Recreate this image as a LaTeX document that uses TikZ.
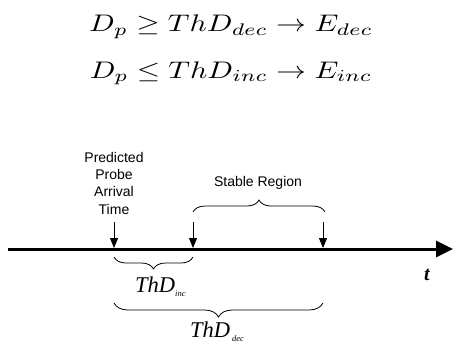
\documentclass[tikz,border=0pt]{standalone}
\usepackage{amsmath,amssymb}
\usepackage[no-math]{fontspec}
\newfontfamily\arialfont{Liberation Sans}
\newfontfamily\timesfont{Liberation Serif}
\usetikzlibrary{arrows.meta, decorations.pathreplacing}

\newcommand{\thdsub}[1]{{\fontsize{8.5}{9}\selectfont\raisebox{-4pt}{#1}}}

\begin{document}
\begin{tikzpicture}[
    x=1pt, y=1pt,
    eqn/.style={anchor=base, inner sep=0pt, font=\fontsize{10}{12}\selectfont},
    lbl/.style={inner sep=0pt, align=center, font=\arialfont\fontsize{14}{17.3}\selectfont},
    thd/.style={anchor=base west, inner sep=0pt, font=\timesfont\itshape\fontsize{22.5}{26}\selectfont},
    timeaxis/.style={line width=3pt, -{Triangle[length=17pt,width=16pt]}},
    marker/.style={line width=1pt, -{Triangle[length=10pt,width=8pt]}},
    curly/.style={decorate, line width=0.8pt, decoration={brace, amplitude=#1}}
  ]
  \useasboundingbox (0,0) rectangle (454,-341);

  \node[eqn] (eqdec) at (231,-31.5)
    {\scalebox{3.0}[2.4]{$D_p \geq ThD_{dec} \rightarrow E_{dec}$}};
  \node[eqn] (eqinc) at (231,-78)
    {\scalebox{3.0}[2.4]{$D_p \leq ThD_{inc} \rightarrow E_{inc}$}};

  \coordinate (origin) at (8,-249);
  \coordinate (tend) at (453,-249);
  \draw[timeaxis] (origin) -- (tend);
  \node[font=\timesfont\bfseries\itshape\fontsize{20}{24}\selectfont, anchor=base, inner sep=0pt] (tlabel) at (427,-280) {t};

  \coordinate (probetop) at (114,-222);
  \coordinate (probe) at (114,-248);
  \coordinate (stabletop) at (193,-222);
  \coordinate (stable) at (193,-248);
  \coordinate (stableendtop) at (323,-222);
  \coordinate (stableend) at (323,-248);
  \draw[marker] (probetop) -- (probe);
  \draw[marker] (stabletop) -- (stable);
  \draw[marker] (stableendtop) -- (stableend);

  \node[lbl, anchor=north] (arrival) at (114,-152) {Predicted\\Probe\\Arrival\\Time};
  \node[lbl, anchor=base] (region) at (258,-186) {Stable Region};

  \draw[curly=12pt] (193,-212) -- (325,-212);
  \draw[curly=12pt] (193,-257) -- (114,-257);
  \draw[curly=14pt] (323,-303) -- (114,-303);

  \node[thd] (thdinc) at (135,-292) {ThD\thdsub{inc}};
  \node[thd] (thddec) at (190,-337) {ThD\kern2pt\thdsub{dec}};
\end{tikzpicture}
\end{document}
